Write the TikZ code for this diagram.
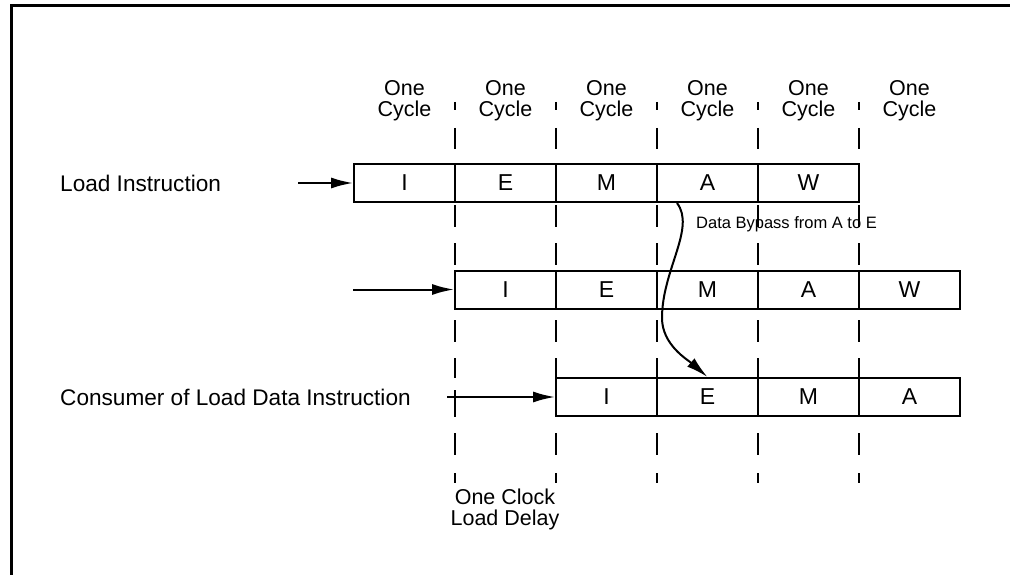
\documentclass[tikz,border=0pt]{standalone}
\usepackage{fontspec}
\setmainfont{Liberation Sans}
\usetikzlibrary{arrows.meta,calc}

\tikzset{
  txt/.style={inner sep=0pt, font=\fontsize{21.5}{21}\selectfont},
  rowtxt/.style={inner sep=0pt, font=\fontsize{22.6}{22}\selectfont},
  small/.style={inner sep=0pt, font=\fontsize{16.5}{18}\selectfont},
  cell/.style={draw, line width=2pt, minimum width=101pt, minimum height=38pt,
               inner sep=0pt, font=\fontsize{23}{23}\selectfont},
  tick/.style={line width=2pt},
  feed/.style={line width=2pt, -{Latex[length=22pt,width=11pt]}},
  frame/.style={line width=3pt}
}

\begin{document}
\begin{tikzpicture}[x=1pt,y=-1pt]
\useasboundingbox (0,0) rectangle (1010,575);

% outer frame
\draw[frame] (11,575) -- (11,6) -- (1010,6);

% cycle headings
\foreach \k in {0,...,5}
  \node[txt, anchor=north, align=center] (cyc\k) at (404.5+101*\k,80.5) {One\\Cycle};

% cycle boundaries
\foreach \x in {455,556,657,758,859}{
  \foreach \a/\b in {102/110,128/149,205/227,243/265,320/342,358/378,433/455,473/483}
    \draw[tick] (\x,\a) -- (\x,\b);
}
\draw[tick] (455,390) -- (455,417);

% load instruction
\node[cell] (r1c1) at (404.5,183) {I};
\node[cell] (r1c2) at (505.5,183) {E};
\node[cell] (r1c3) at (606.5,183) {M};
\node[cell] (r1c4) at (707.5,183) {A};
\node[cell] (r1c5) at (808.5,183) {W};

% following instruction
\node[cell] (r2c1) at (505.5,289.5) {I};
\node[cell] (r2c2) at (606.5,289.5) {E};
\node[cell] (r2c3) at (707.5,289.5) {M};
\node[cell] (r2c4) at (808.5,289.5) {A};
\node[cell] (r2c5) at (909.5,289.5) {W};

% consumer instruction
\node[cell] (r3c1) at (606.5,397) {I};
\node[cell] (r3c2) at (707.5,397) {E};
\node[cell] (r3c3) at (808.5,397) {M};
\node[cell] (r3c4) at (909.5,397) {A};

% row labels
\node[rowtxt, anchor=west] (lload) at (60,183) {Load Instruction};
\node[rowtxt, anchor=west] (lcons) at (60,397) {Consumer of Load Data Instruction};

% issue arrows
\coordinate (in1) at (298,183);
\coordinate (in2) at (353,289.5);
\coordinate (in3) at (447,397);
\draw[feed] (in1) -- (r1c1.west);
\draw[feed] (in2) -- (r2c1.west);
\draw[feed] (in3) -- (r3c1.west);

% bypass path from A to E
\coordinate (bstart) at ($(r1c4.south west)+(21,0)$);
\coordinate (bmid) at (662,318);
\draw[feed] (bstart) .. controls (696,228) and (662,270) .. (bmid)
            .. controls (662,345) and (688,360) .. (r3c2.north);
\node[small, anchor=base west] (lbyp) at (696,228) {Data Bypass from A to E};

% delay note
\node[txt, anchor=north, align=center] (ldelay) at (505,489) {One Clock\\Load Delay};
\end{tikzpicture}
\end{document}
